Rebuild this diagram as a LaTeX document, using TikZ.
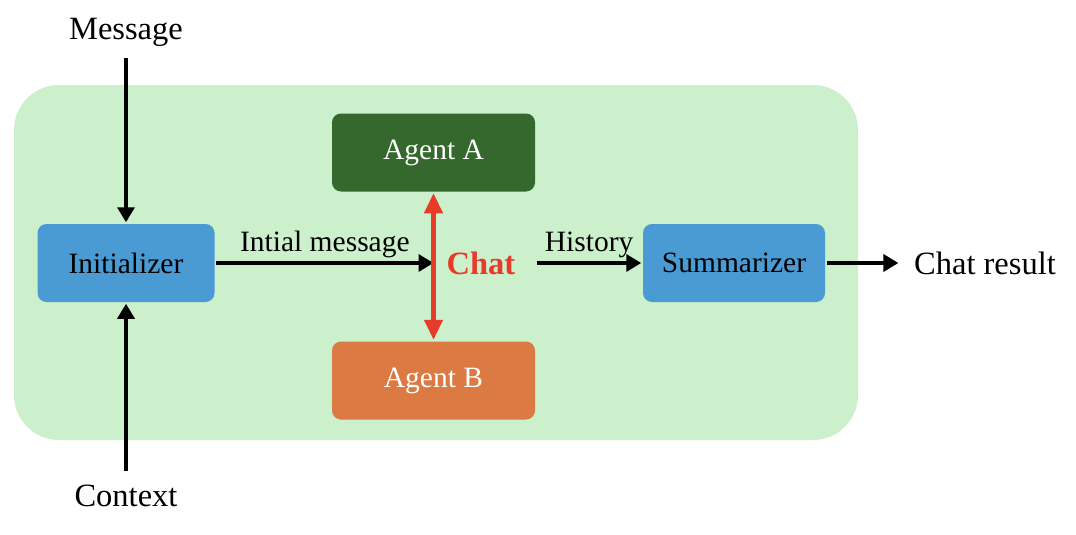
\documentclass[tikz,border=0pt]{standalone}
\usepackage{fontspec}
\setmainfont{Liberation Serif}
\usepackage{tikz}
\usetikzlibrary{arrows.meta,positioning}

\definecolor{bggreen}{RGB}{204,239,204}
\definecolor{boxblue}{RGB}{74,155,211}
\definecolor{agentgreen}{RGB}{53,104,45}
\definecolor{agentorange}{RGB}{219,122,66}
\definecolor{chatred}{RGB}{231,59,42}

\begin{document}
\begin{tikzpicture}[x=1pt,y=-1pt,->,>={Triangle[length=15pt,width=17pt]},line width=3.5pt,
  font=\fontsize{29.5}{35}\selectfont,
  main node/.style={rounded corners=9pt,minimum height=78pt,inner sep=0pt},
  plain node/.style={inner sep=0pt},
  outer node/.style={inner sep=0pt,font=\fontsize{32.5}{38}\selectfont}]

  \useasboundingbox (0,0) rectangle (1076,535);
  \fill[bggreen,rounded corners=45pt] (14,85) rectangle (858,440);

  \node[main node,fill=boxblue,minimum width=177pt] (init) at (126,263) {Initializer};
  \node[main node,fill=agentgreen,text=white,minimum width=203pt] (a) at (433.5,152.5) {Agent A};
  \node[main node,fill=agentorange,text=white,minimum width=203pt] (b) at (433.5,380.5) {Agent B};
  \node[main node,fill=boxblue,minimum width=182pt] (summ) at (734,263) {Summarizer};
  \node[plain node,text=chatred,font=\fontsize{32.5}{38}\selectfont\bfseries,inner xsep=20pt] (chat) at (481,263) {Chat};

  \node[outer node,inner sep=10pt] (msg) at (126,32) {Message};
  \node[outer node,inner sep=12pt] (ctx) at (126,496) {Context};
  \node[outer node,inner xsep=14pt] (res) at (985,263) {Chat result};

  \path
      (msg) edge (init)
      (ctx) edge (init)
      (init) edge node[above,plain node,yshift=3pt] {Intial message} (a.south |- init)
      (chat) edge node[above,plain node,yshift=3pt] {History} (summ)
      (summ) edge (res);

  \draw[<->,chatred,line width=4.5pt,>={Triangle[length=20pt,width=18pt]}] (a) -- (b);
\end{tikzpicture}
\end{document}
